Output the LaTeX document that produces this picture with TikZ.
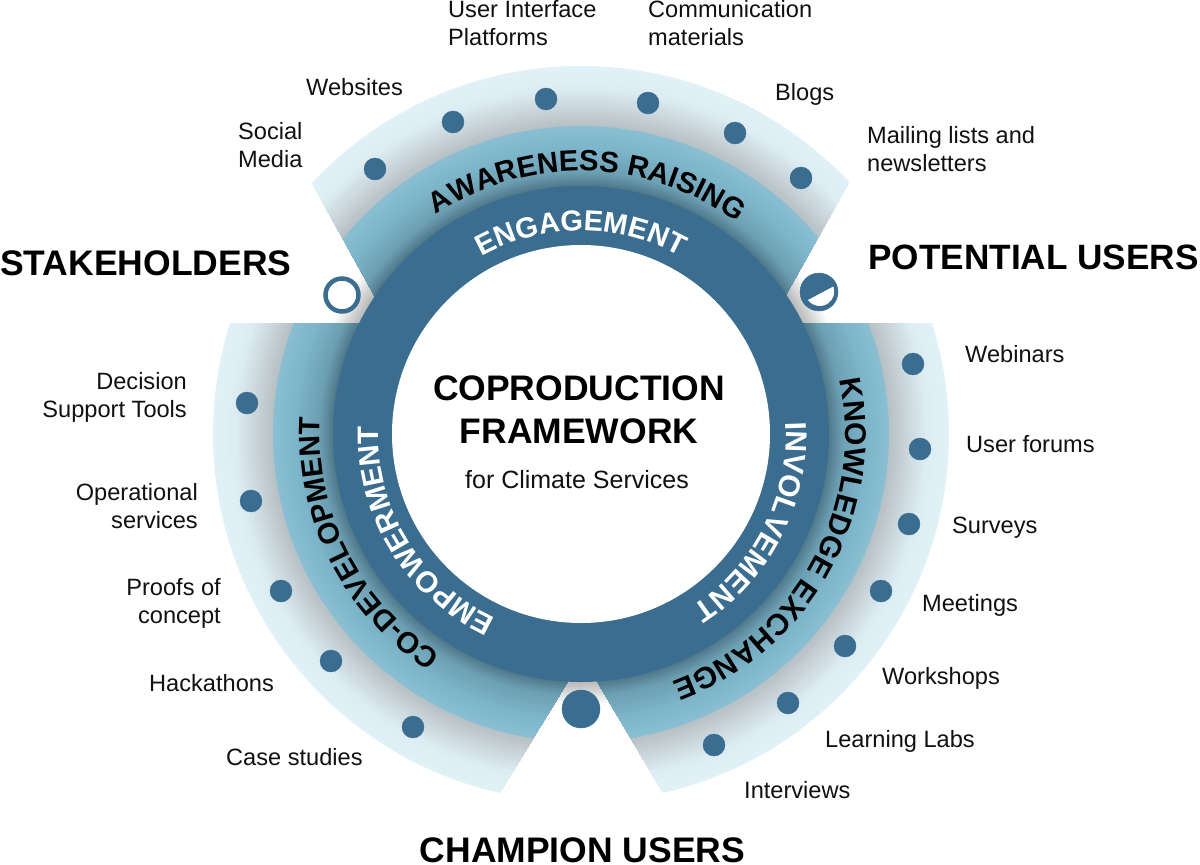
\documentclass[tikz,border=0pt]{standalone}
\usepackage{fontspec}
\setmainfont{Liberation Sans}
\usetikzlibrary{decorations.text}
\definecolor{ringdark}{HTML}{3A6D90}
\definecolor{titleink}{HTML}{111111}
\definecolor{outerA}{HTML}{E0F2F8}
\definecolor{outerB}{HTML}{DCECF2}
\definecolor{outerC}{HTML}{B8C1C5}
\definecolor{midA}{HTML}{8ABFD3}
\definecolor{midB}{HTML}{7DB4CA}
\definecolor{midC}{HTML}{6C9FB2}
\definecolor{midD}{HTML}{4F7888}
\definecolor{haloA}{HTML}{B8B8B8}
\tikzset{
 lbl/.style={inner sep=0pt,font=\fontsize{23.6}{28}\selectfont,text=titleink},
 lblw/.style={lbl,anchor=west,align=left},
 lble/.style={lbl,anchor=east,align=right},
 headline/.style={inner sep=0pt,font=\fontsize{35.5}{35.5}\selectfont\bfseries,text=black},
 dotmark/.style={circle,fill=ringdark,draw=ringdark,inner sep=0pt,minimum size=22pt},
}
\newcommand{\rampdisc}[4]{% outer r, inner r, outer colour, inner colour
 \pgfmathtruncatemacro{\rnext}{#1-1}
 \foreach \rr in {#1,\rnext,...,#2}{
  \pgfmathtruncatemacro{\tmix}{100*(\rr-#2)/(#1-#2)}
  \fill[#3!\tmix!#4] (c) circle[radius=\rr];}}
\newcommand{\bandfill}{%
 \rampdisc{368}{345}{outerA}{outerB}
 \rampdisc{345}{309}{outerB}{outerC}
 \rampdisc{308}{285}{midA}{midB}
 \rampdisc{285}{262}{midB}{midC}
 \rampdisc{262}{248}{midC}{midD}}
\newcommand{\arclabel}[6]{% centre angle, half span, radius, size, colour, text
 \path[decorate,decoration={text along path,text align=center,text color=#5,
  text={|\fontsize{#4}{#4}\selectfont\bfseries|#6}}]
  ({#1-#2}:#3) arc[start angle={#1-#2},end angle={#1+#2},radius=#3];}
\begin{document}
\begin{tikzpicture}[x=1pt,y=-1pt]
\useasboundingbox (0,0) rectangle (1200,865);
\fill[white] (0,0) rectangle (1200,865);
\coordinate (c) at (581,434);
% halo in the gaps
\rampdisc{272}{248}{white}{haloA}
% three bands
\begin{scope}
 \clip (190,-37) -- (976,-44) -- (708,434) -- (451,434) -- cycle;
 \bandfill
\end{scope}
\begin{scope}
 \clip (581,323) -- (1000,323) -- (1000,903) -- (728,903) -- (598,683) -- (581,434) -- cycle;
 \bandfill
\end{scope}
\begin{scope}
 \clip (581,323) -- (100,323) -- (100,903) -- (433,903) -- (567,683) -- (581,434) -- cycle;
 \bandfill
\end{scope}
% core ring
\fill[ringdark] (c) circle[radius=248];
\fill[white] (c) circle[radius=189];
% curved labels
\begin{scope}[shift={(581,434)}]
 \arclabel{271.5}{60}{263}{29.3}{black}{AWARENESS RAISING}
 \arclabel{270}{60}{203.5}{29}{white}{ENGAGEMENT}
 \arclabel{29}{60}{264}{30}{black}{KNOWLEDGE EXCHANGE}
 \arclabel{27}{60}{205}{30}{white}{INVOLVEMENT}
 \arclabel{153}{60}{261}{29.5}{black}{CO-DEVELOPMENT}
 \arclabel{148.5}{60}{203}{29.5}{white}{EMPOWERMENT}
\end{scope}
% dots
\foreach \n/\x/\y in {t1/375/169,t2/453/122,t3/546/99,t4/648/103,t5/735/133,t6/801/178,
  r1/913/364,r2/920/449,r3/909/524,r4/881/591,r5/845/646,r6/788/703,r7/714/745,
  l1/247/403,l2/251/501,l3/281/591,l4/331/661,l5/413/727}
  \node[dotmark] (\n) at (\x,\y) {};
% stage markers
\node[dotmark,minimum size=38pt] (champion) at (581,709) {};
\node[circle,draw=ringdark,line width=4.5pt,fill=white,inner sep=0pt,minimum size=33pt] (stake) at (342,295) {};
\node[dotmark,minimum size=38pt] (potential) at (819,292) {};
\fill[white] (808,300) arc[start angle=144,end angle=-20,radius=14.5] -- cycle;
% labels
\node[lblw] (a1) at (238,145) {Social\\Media};
\node[lblw] (a2) at (306,87) {Websites};
\node[lblw] (a3) at (448,23) {User Interface\\Platforms};
\node[lblw] (a4) at (648,23) {Communication\\materials};
\node[lblw] (a5) at (775,94) {Blogs};
\node[lblw] (a6) at (867,149) {Mailing lists and\\newsletters};
\node[lblw] (b1) at (965,354) {Webinars};
\node[lblw] (b2) at (966,444) {User forums};
\node[lblw] (b3) at (952,528) {Surveys};
\node[lblw] (b4) at (922,605) {Meetings};
\node[lblw] (b5) at (882,678) {Workshops};
\node[lblw] (b6) at (825,741) {Learning Labs};
\node[lblw] (b7) at (744,790) {Interviews};
\node[lble] (d1) at (187,397) {Decision\\Support Tools};
\node[lble] (d2) at (198,506) {Operational\\services};
\node[lble] (d3) at (221,603) {Proofs of\\concept};
\node[lblw] (d4) at (149,683) {Hackathons};
\node[lblw] (d5) at (226,757) {Case studies};
\node[headline,anchor=west] (h1) at (0,263) {STAKEHOLDERS};
\node[headline,anchor=east,font=\fontsize{35.2}{35.2}\selectfont\bfseries] (h2) at (1199,257) {POTENTIAL USERS};
\node[headline] (h3) at (582.5,850) {CHAMPION USERS};
\node[headline] (m1) at (579,388) {COPRODUCTION};
\node[headline] (m2) at (579,431) {FRAMEWORK};
\node[lbl,font=\fontsize{25}{28}\selectfont] (m3) at (577,480) {for Climate Services};
\end{tikzpicture}
\end{document}
